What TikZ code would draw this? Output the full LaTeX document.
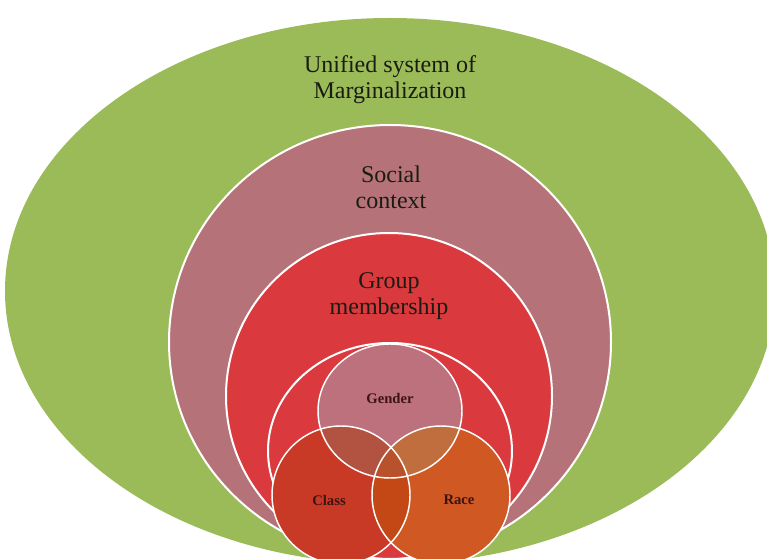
\documentclass[tikz,border=0pt]{standalone}
\usepackage{fontspec}
\setmainfont{Liberation Serif}
\usetikzlibrary{positioning}
\definecolor{grn}{RGB}{155,187,89}
\definecolor{mau}{RGB}{182,114,121}
\definecolor{rd}{RGB}{218,57,62}
\definecolor{gen}{RGB}{189,113,124}
\definecolor{cls}{RGB}{201,58,38}
\definecolor{rce}{RGB}{207,88,35}
\definecolor{gencls}{RGB}{178,83,66}
\definecolor{genrce}{RGB}{192,110,62}
\definecolor{clsrce}{RGB}{196,72,22}
\definecolor{allthree}{RGB}{183,82,45}
\definecolor{txt}{RGB}{26,28,18}
\definecolor{txtsm}{RGB}{60,20,20}

\begin{document}
\begin{tikzpicture}[x=0.75pt,y=0.75pt,yscale=-1,xscale=1,
	ring/.style={draw=white,line width=1.5},
	venn/.style={draw=white,line width=1.1},
	big/.style={font=\fontsize{18}{19.5}\selectfont,text=txt,align=center,inner sep=0.75pt},
	small/.style={font=\bfseries\fontsize{11}{13}\selectfont,text=txtsm,inner sep=0.75pt}]
	\useasboundingbox (0,0) rectangle (767,559);
	\clip (0,0) rectangle (767,559);

	% centres of the rings and of the three small circles
	\coordinate (sys) at (390,291);
	\coordinate (soc) at (390,342);
	\coordinate (grp) at (389,396);
	\coordinate (inn) at (390,451);
	\coordinate (gender) at (390,411);
	\coordinate (class) at (341,495);
	\coordinate (race) at (441,495);

	% stacked rings
	\fill [grn] (sys) ellipse [x radius=385, y radius=273];
	\filldraw [fill=mau, ring] (soc) ellipse [x radius=221, y radius=217];
	\filldraw [fill=rd, ring] (grp) ellipse [x radius=163, y radius=163];
	\filldraw [fill=rd, ring] (inn) ellipse [x radius=122, y radius=108];

	% the three circles and their overlaps
	\fill [cls] (class) circle [radius=69];
	\fill [rce] (race) circle [radius=69];
	\fill [gen] (gender) ellipse [x radius=72, y radius=67];
	\begin{scope}
		\clip (gender) ellipse [x radius=72, y radius=67];
		\fill [gencls] (class) circle [radius=69];
		\fill [genrce] (race) circle [radius=69];
	\end{scope}
	\begin{scope}
		\clip (class) circle [radius=69];
		\fill [clsrce] (race) circle [radius=69];
		\clip (race) circle [radius=69];
		\fill [allthree] (gender) ellipse [x radius=72, y radius=67];
	\end{scope}
	\draw [venn] (class) circle [radius=69];
	\draw [venn] (race) circle [radius=69];
	\draw [venn] (gender) ellipse [x radius=72, y radius=67];

	% labels
	\node [big] (sysl) at (390,80) {Unified system of\\Marginalization};
	\node [big] (socl) at (391,187) {Social\\context};
	\node [big] (grpl) at (389,296) {Group\\membership};
	\node [small] (genl) at (390,398) {Gender};
	\node [small] (clsl) at (329,500) {Class};
	\node [small] (rcel) at (459,500) {Race};
\end{tikzpicture}
\end{document}
